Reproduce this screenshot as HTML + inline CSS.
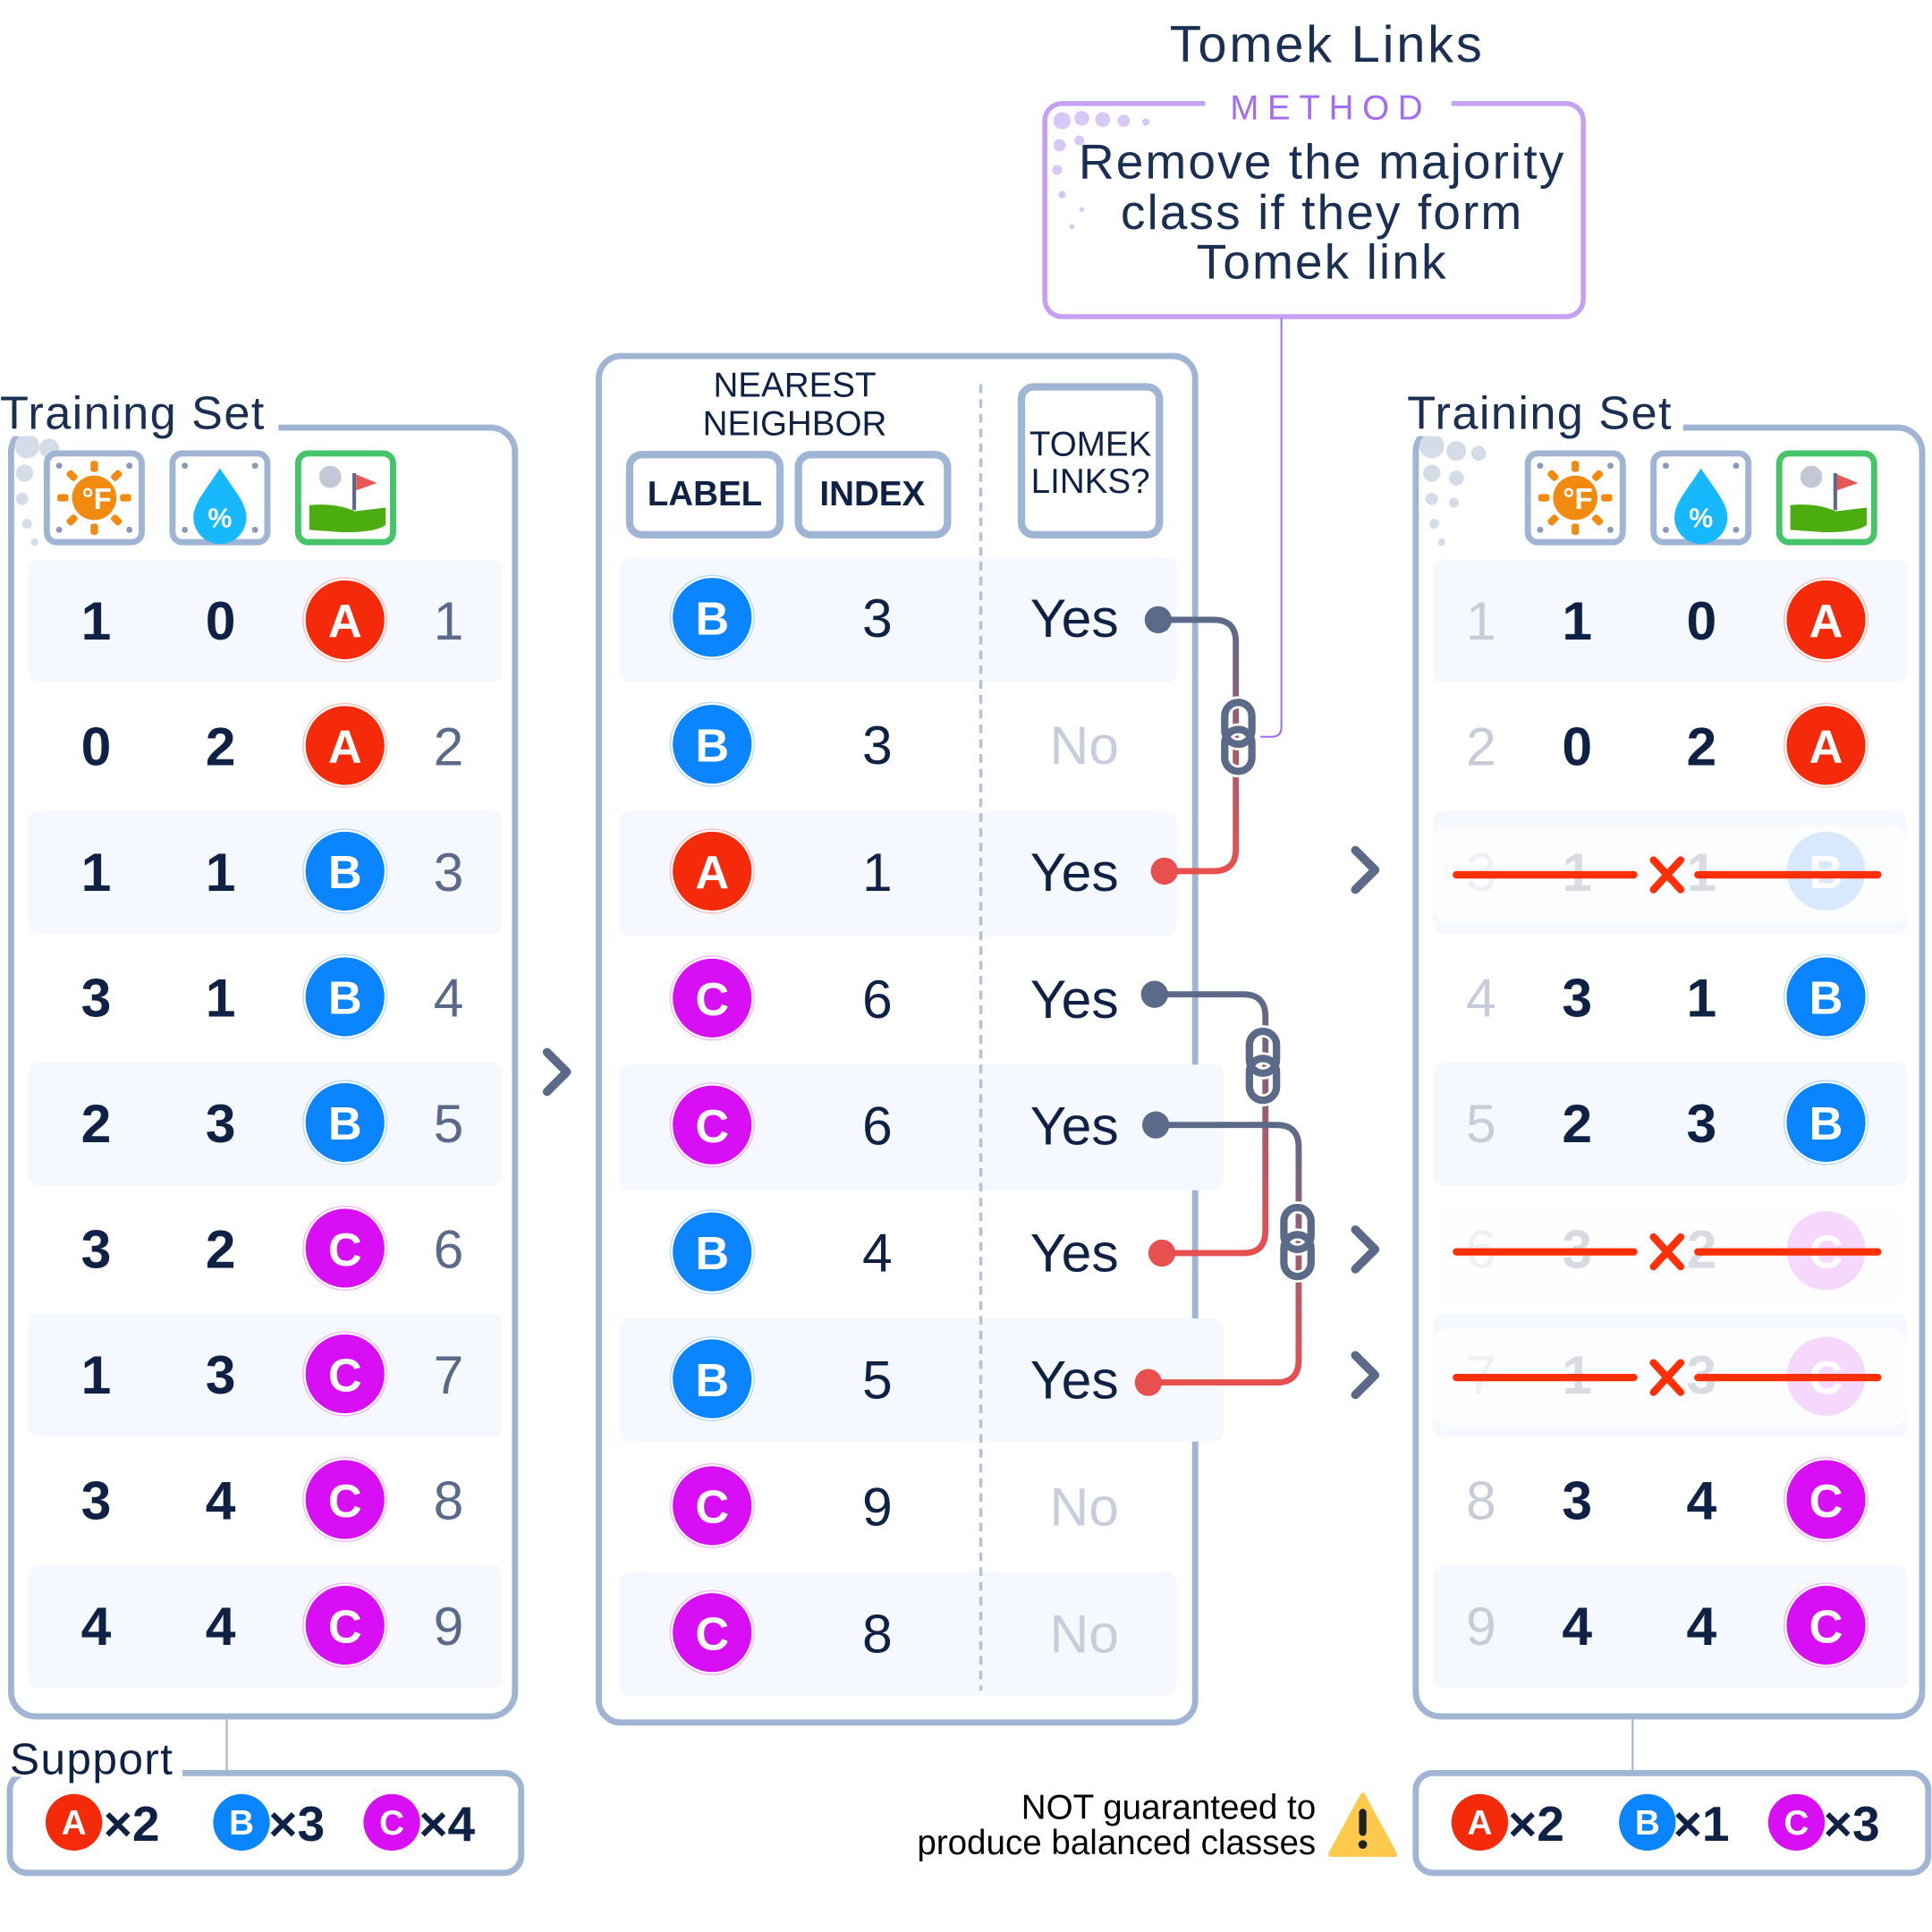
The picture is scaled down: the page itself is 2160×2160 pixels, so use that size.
<!DOCTYPE html>
<html><head><meta charset="utf-8"><style>
html,body{margin:0;padding:0;background:#fff;}
svg{display:block;}
text{font-family:"Liberation Sans",sans-serif;}
.n{font-size:44px;font-weight:bold;fill:#0f2145;text-anchor:middle;}
.ix{font-size:44px;fill:#5c6a8a;text-anchor:middle;}
.ixl{font-size:44px;fill:#c8ccd8;text-anchor:middle;}
.L{font-size:38px;font-weight:bold;fill:#fff;text-anchor:middle;}
.y{font-size:44px;fill:#0f2145;text-anchor:middle;}
.no{font-size:44px;fill:#c8cddb;text-anchor:middle;}
.t{font-size:38px;fill:#1b2f52;letter-spacing:1px;}
</style></head><body>
<svg width="2160" height="2160" viewBox="0 0 1568 1568" xmlns="http://www.w3.org/2000/svg">
<defs>
<g id="cA"><circle r="34" fill="#fff" stroke="#f52a0a" stroke-opacity=".3"/><circle r="32" fill="#f52a0a"/><text y="14" class="L">A</text></g>
<g id="cB"><circle r="34" fill="#fff" stroke="#0a84ff" stroke-opacity=".3"/><circle r="32" fill="#0a84ff"/><text y="14" class="L">B</text></g>
<g id="cC"><circle r="34" fill="#fff" stroke="#d80ff5" stroke-opacity=".3"/><circle r="32" fill="#d80ff5"/><text y="14" class="L">C</text></g>
<g id="sA"><circle r="23" fill="#f52a0a"/><text y="10" font-size="28" font-weight="bold" fill="#fff" text-anchor="middle">A</text></g>
<g id="sB"><circle r="23" fill="#0a84ff"/><text y="10" font-size="28" font-weight="bold" fill="#fff" text-anchor="middle">B</text></g>
<g id="sC"><circle r="23" fill="#d80ff5"/><text y="10" font-size="28" font-weight="bold" fill="#fff" text-anchor="middle">C</text></g>
<g id="ib"><rect x="0" y="0" width="77" height="72" rx="8" fill="#fff" stroke="#a0b4d4" stroke-width="5"/><circle cx="10" cy="10" r="2.5" fill="#8a9bb8"/><circle cx="67" cy="10" r="2.5" fill="#8a9bb8"/><circle cx="10" cy="62" r="2.5" fill="#8a9bb8"/><circle cx="67" cy="62" r="2.5" fill="#8a9bb8"/></g>
<g id="icons">
 <use href="#ib" x="0" y="0"/>
 <g transform="translate(38.5,36)" fill="#f28a10"><circle r="18"/><rect x="-3" y="-30" width="6" height="9" rx="2"/><rect x="-3" y="21" width="6" height="9" rx="2"/><rect x="-30" y="-3" width="9" height="6" rx="2"/><rect x="21" y="-3" width="9" height="6" rx="2"/><rect x="-3" y="-30" width="6" height="9" rx="2" transform="rotate(45)"/><rect x="-3" y="-30" width="6" height="9" rx="2" transform="rotate(-45)"/><rect x="-3" y="21" width="6" height="9" rx="2" transform="rotate(45)"/><rect x="-3" y="21" width="6" height="9" rx="2" transform="rotate(-45)"/><text x="2" y="9" font-size="24" font-weight="bold" fill="#fff" text-anchor="middle">°F</text></g>
 <use href="#ib" x="102" y="0"/>
 <path d="M140.5 12 C152 30 162 40 162 52 A21.5 21.5 0 0 1 119 52 C119 40 129 30 140.5 12Z" fill="#18b8ff"/><text x="140.5" y="60" font-size="22" font-weight="bold" fill="#fff" text-anchor="middle">%</text>
 <rect x="204" y="0" width="77" height="72" rx="8" fill="#fff" stroke="#46c46a" stroke-width="5"/>
 <circle cx="230" cy="19" r="9" fill="#c4c8d6"/><rect x="248" y="16" width="3" height="30" fill="#5c6a8a"/><path d="M251 17 L268 24 L251 30Z" fill="#e85656"/>
 <path d="M213 42 Q235 40 250 47 L275 44 L275 58 Q268 64 240 64 L213 62Z" fill="#4cad10"/>
</g>
</defs>

<!-- Title & method -->
<text x="1077" y="50" font-size="42" fill="#1b2f52" text-anchor="middle" letter-spacing="2">Tomek Links</text>
<rect x="848" y="84" width="437" height="173" rx="14" fill="#fff" stroke="#c4a0f5" stroke-width="4"/>
<g fill="#d8c8f8"><circle cx="862" cy="98" r="7"/><circle cx="878" cy="96" r="6"/><circle cx="895" cy="97" r="6"/><circle cx="912" cy="98" r="5"/><circle cx="930" cy="99" r="3"/><circle cx="860" cy="118" r="5"/><circle cx="876" cy="114" r="4"/><circle cx="858" cy="138" r="4"/><circle cx="862" cy="158" r="3"/><circle cx="878" cy="170" r="2"/><circle cx="870" cy="184" r="2"/></g>
<rect x="978" y="74" width="200" height="24" fill="#fff"/>
<text x="1080" y="97" font-size="28" fill="#a26cf5" text-anchor="middle" letter-spacing="7">METHOD</text>
<text x="1073" y="145" font-size="40" fill="#1b2f52" text-anchor="middle" letter-spacing="1.5">Remove the majority</text>
<text x="1073" y="186" font-size="40" fill="#1b2f52" text-anchor="middle" letter-spacing="1.5">class if they form</text>
<text x="1073" y="226" font-size="40" fill="#1b2f52" text-anchor="middle" letter-spacing="1.5">Tomek link</text>
<path d="M1040 258 V590 Q1040 598 1032 598 H1023" fill="none" stroke="#a26cf5" stroke-width="1.5"/>

<!-- LEFT PANEL -->
<rect x="9" y="347" width="409" height="1046" rx="20" fill="#fff" stroke="#a0b4d4" stroke-width="5"/>
<g fill="#d4dce8"><circle cx="22" cy="362" r="10"/><circle cx="40" cy="364" r="8"/><circle cx="20" cy="384" r="7"/><circle cx="18" cy="405" r="5"/><circle cx="22" cy="425" r="4"/><circle cx="28" cy="440" r="3"/></g>
<rect x="0" y="318" width="226" height="36" fill="#fff"/>
<text x="0" y="348" class="t">Training Set</text>
<use href="#icons" x="38" y="368"/>
<g fill="#f5f8fe"><rect x="23" y="454" width="385" height="100" rx="8"/><rect x="23" y="658" width="385" height="100" rx="8"/><rect x="23" y="862" width="385" height="100" rx="8"/><rect x="23" y="1066" width="385" height="100" rx="8"/><rect x="23" y="1270" width="385" height="100" rx="8"/></g>
<g>
<text x="78" y="519" class="n">1</text><text x="179" y="519" class="n">0</text><use href="#cA" x="280" y="503"/><text x="364" y="519" class="ix">1</text>
<text x="78" y="621" class="n">0</text><text x="179" y="621" class="n">2</text><use href="#cA" x="280" y="605"/><text x="364" y="621" class="ix">2</text>
<text x="78" y="723" class="n">1</text><text x="179" y="723" class="n">1</text><use href="#cB" x="280" y="707"/><text x="364" y="723" class="ix">3</text>
<text x="78" y="825" class="n">3</text><text x="179" y="825" class="n">1</text><use href="#cB" x="280" y="809"/><text x="364" y="825" class="ix">4</text>
<text x="78" y="927" class="n">2</text><text x="179" y="927" class="n">3</text><use href="#cB" x="280" y="911"/><text x="364" y="927" class="ix">5</text>
<text x="78" y="1029" class="n">3</text><text x="179" y="1029" class="n">2</text><use href="#cC" x="280" y="1013"/><text x="364" y="1029" class="ix">6</text>
<text x="78" y="1131" class="n">1</text><text x="179" y="1131" class="n">3</text><use href="#cC" x="280" y="1115"/><text x="364" y="1131" class="ix">7</text>
<text x="78" y="1233" class="n">3</text><text x="179" y="1233" class="n">4</text><use href="#cC" x="280" y="1217"/><text x="364" y="1233" class="ix">8</text>
<text x="78" y="1335" class="n">4</text><text x="179" y="1335" class="n">4</text><use href="#cC" x="280" y="1319"/><text x="364" y="1335" class="ix">9</text>
</g>

<!-- Support left -->
<line x1="184" y1="1395" x2="184" y2="1438" stroke="#a0b4d4" stroke-width="1.5"/>
<rect x="8" y="1439" width="415" height="81" rx="14" fill="#fff" stroke="#a0b4d4" stroke-width="5"/>
<rect x="0" y="1406" width="148" height="36" fill="#fff"/>
<text x="8" y="1440" font-size="36" fill="#0f2145" letter-spacing="1">Support</text>
<use href="#sA" x="60" y="1479"/><text x="84" y="1494" font-size="40" font-weight="bold" fill="#0f2145">×2</text>
<use href="#sB" x="196" y="1479"/><text x="218" y="1494" font-size="40" font-weight="bold" fill="#0f2145">×3</text>
<use href="#sC" x="318" y="1479"/><text x="340" y="1494" font-size="40" font-weight="bold" fill="#0f2145">×4</text>

<!-- Chevrons -->
<g fill="none" stroke="#5c6a8a" stroke-width="7" stroke-linecap="round" stroke-linejoin="round">
<path d="M444 854 L460 870 L444 886"/><path d="M1100 690 L1116 706 L1100 722"/><path d="M1100 998 L1116 1014 L1100 1030"/><path d="M1100 1100 L1116 1116 L1100 1132"/>
</g>

<!-- MIDDLE PANEL -->
<rect x="486" y="289" width="484" height="1109" rx="18" fill="#fff" stroke="#a0b4d4" stroke-width="5"/>
<g fill="#f5f8fe"><rect x="503" y="452" width="452" height="102" rx="8"/><rect x="503" y="658" width="452" height="102" rx="8"/><rect x="503" y="864" width="490" height="102" rx="8"/><rect x="503" y="1070" width="490" height="100" rx="8"/><rect x="503" y="1276" width="452" height="100" rx="8"/></g>
<line x1="796" y1="312" x2="796" y2="1372" stroke="#b4c2d4" stroke-width="2.5" stroke-dasharray="7 5"/>
<text x="645" y="322" font-size="28" fill="#0f2145" text-anchor="middle">NEAREST</text>
<text x="645" y="353" font-size="28" fill="#0f2145" text-anchor="middle">NEIGHBOR</text>
<rect x="511" y="369" width="122" height="65" rx="10" fill="#fff" stroke="#a0b4d4" stroke-width="6"/>
<text x="572" y="410" font-size="28" font-weight="bold" fill="#0f2145" text-anchor="middle">LABEL</text>
<rect x="648" y="369" width="121" height="65" rx="10" fill="#fff" stroke="#a0b4d4" stroke-width="6"/>
<text x="708" y="410" font-size="28" font-weight="bold" fill="#0f2145" text-anchor="middle">INDEX</text>
<rect x="829" y="314" width="112" height="120" rx="10" fill="#fff" stroke="#a0b4d4" stroke-width="6"/>
<text x="885" y="370" font-size="28" fill="#0f2145" text-anchor="middle">TOMEK</text>
<text x="885" y="400" font-size="28" fill="#0f2145" text-anchor="middle">LINKS?</text>

<use href="#cB" x="578" y="501"/><text x="712" y="517" class="y">3</text><text x="872" y="517" class="y">Yes</text>
<use href="#cB" x="578" y="604"/><text x="712" y="620" class="y">3</text><text x="880" y="620" class="no">No</text>
<use href="#cA" x="578" y="707"/><text x="712" y="723" class="y">1</text><text x="872" y="723" class="y">Yes</text>
<use href="#cC" x="578" y="810"/><text x="712" y="826" class="y">6</text><text x="872" y="826" class="y">Yes</text>
<use href="#cC" x="578" y="913"/><text x="712" y="929" class="y">6</text><text x="872" y="929" class="y">Yes</text>
<use href="#cB" x="578" y="1016"/><text x="712" y="1032" class="y">4</text><text x="872" y="1032" class="y">Yes</text>
<use href="#cB" x="578" y="1119"/><text x="712" y="1135" class="y">5</text><text x="872" y="1135" class="y">Yes</text>
<use href="#cC" x="578" y="1222"/><text x="712" y="1238" class="y">9</text><text x="880" y="1238" class="no">No</text>
<use href="#cC" x="578" y="1325"/><text x="712" y="1341" class="y">8</text><text x="880" y="1341" class="no">No</text>

<!-- connectors -->
<defs>
<linearGradient id="g1" x1="0" y1="0" x2="0" y2="1"><stop offset="0" stop-color="#5c6a8a"/><stop offset="1" stop-color="#e85050"/></linearGradient>
<g id="link"><rect x="-11" y="-28" width="22" height="34" rx="11" fill="none" stroke="#fff" stroke-width="10"/><rect x="-11" y="-6" width="22" height="34" rx="11" fill="none" stroke="#fff" stroke-width="10"/><rect x="-11" y="-28" width="22" height="34" rx="11" fill="none" stroke="#5c6a8a" stroke-width="6"/><rect x="-11" y="-6" width="22" height="34" rx="11" fill="none" stroke="#5c6a8a" stroke-width="6"/></g>
</defs>
<path d="M940 503 H985 Q1003 503 1003 521 V689 Q1003 707 985 707 H945" fill="none" stroke="url(#g1)" stroke-width="5"/>
<circle cx="940" cy="503" r="11" fill="#5c6a8a"/><circle cx="945" cy="707" r="11" fill="#e85050"/>
<use href="#link" x="1005" y="598"/>
<path d="M937 807 H1009 Q1027 807 1027 825 V999 Q1027 1017 1009 1017 H943" fill="none" stroke="url(#g1)" stroke-width="5"/>
<circle cx="937" cy="807" r="11" fill="#5c6a8a"/><circle cx="943" cy="1017" r="11" fill="#e85050"/>
<path d="M938 913 H1036 Q1054 913 1054 931 V1104 Q1054 1122 1036 1122 H932" fill="none" stroke="url(#g1)" stroke-width="5"/>
<circle cx="938" cy="913" r="11" fill="#5c6a8a"/><circle cx="932" cy="1122" r="11" fill="#e85050"/>
<use href="#link" x="1025" y="865"/>
<use href="#link" x="1053" y="1008"/>

<!-- RIGHT PANEL -->
<rect x="1149" y="347" width="411" height="1046" rx="20" fill="#fff" stroke="#a0b4d4" stroke-width="5"/>
<g fill="#d4dce8"><circle cx="1162" cy="362" r="10"/><circle cx="1182" cy="366" r="8"/><circle cx="1200" cy="368" r="6"/><circle cx="1162" cy="384" r="7"/><circle cx="1182" cy="388" r="6"/><circle cx="1162" cy="405" r="5"/><circle cx="1180" cy="408" r="4"/><circle cx="1164" cy="425" r="4"/><circle cx="1170" cy="440" r="3"/></g>
<rect x="1140" y="318" width="226" height="36" fill="#fff"/>
<text x="1142" y="348" class="t">Training Set</text>
<use href="#icons" x="1240" y="368"/>
<g fill="#f5f8fe"><rect x="1163" y="454" width="385" height="100" rx="8"/><rect x="1163" y="658" width="385" height="100" rx="8"/><rect x="1163" y="862" width="385" height="100" rx="8"/><rect x="1163" y="1066" width="385" height="100" rx="8"/><rect x="1163" y="1270" width="385" height="100" rx="8"/></g>
<text x="1202" y="519" class="ixl">1</text><text x="1280" y="519" class="n">1</text><text x="1381" y="519" class="n">0</text><use href="#cA" x="1482" y="503"/>
<text x="1202" y="621" class="ixl">2</text><text x="1280" y="621" class="n">0</text><text x="1381" y="621" class="n">2</text><use href="#cA" x="1482" y="605"/>
<text x="1202" y="825" class="ixl">4</text><text x="1280" y="825" class="n">3</text><text x="1381" y="825" class="n">1</text><use href="#cB" x="1482" y="809"/>
<text x="1202" y="927" class="ixl">5</text><text x="1280" y="927" class="n">2</text><text x="1381" y="927" class="n">3</text><use href="#cB" x="1482" y="911"/>
<text x="1202" y="1233" class="ixl">8</text><text x="1280" y="1233" class="n">3</text><text x="1381" y="1233" class="n">4</text><use href="#cC" x="1482" y="1217"/>
<text x="1202" y="1335" class="ixl">9</text><text x="1280" y="1335" class="n">4</text><text x="1381" y="1335" class="n">4</text><use href="#cC" x="1482" y="1319"/>
<!-- removed rows -->
<g>
<rect x="1163" y="670" width="385" height="80" rx="14" fill="#fcfdff"/>
<text x="1202" y="723" font-size="44" fill="#eef0f4" text-anchor="middle">3</text><text x="1280" y="723" font-size="44" font-weight="bold" fill="#d8dce2" text-anchor="middle">1</text><text x="1381" y="723" font-size="44" font-weight="bold" fill="#d8dce2" text-anchor="middle">1</text><circle cx="1482" cy="707" r="32" fill="#d8e8fd"/><text x="1482" y="721" font-size="38" font-weight="bold" fill="#fff" text-anchor="middle">B</text>
<rect x="1163" y="978" width="385" height="80" rx="14" fill="#fefdff"/>
<text x="1202" y="1029" font-size="44" fill="#eef0f4" text-anchor="middle">6</text><text x="1280" y="1029" font-size="44" font-weight="bold" fill="#d8dce2" text-anchor="middle">3</text><text x="1381" y="1029" font-size="44" font-weight="bold" fill="#d8dce2" text-anchor="middle">2</text><circle cx="1482" cy="1015" r="32" fill="#f6d8fd"/><text x="1482" y="1029" font-size="38" font-weight="bold" fill="#fff" text-anchor="middle">C</text>
<rect x="1163" y="1078" width="385" height="80" rx="14" fill="#fcfdff"/>
<text x="1202" y="1131" font-size="44" fill="#eef0f4" text-anchor="middle">7</text><text x="1280" y="1131" font-size="44" font-weight="bold" fill="#d8dce2" text-anchor="middle">1</text><text x="1381" y="1131" font-size="44" font-weight="bold" fill="#d8dce2" text-anchor="middle">3</text><circle cx="1482" cy="1117" r="32" fill="#f6d8fd"/><text x="1482" y="1131" font-size="38" font-weight="bold" fill="#fff" text-anchor="middle">C</text>
</g>
<g stroke="#ff3008" stroke-width="6" stroke-linecap="round">
<line x1="1182" y1="710" x2="1326" y2="710"/><line x1="1378" y1="710" x2="1524" y2="710"/><line x1="1342" y1="698" x2="1364" y2="722"/><line x1="1364" y1="698" x2="1342" y2="722"/>
<line x1="1182" y1="1016" x2="1326" y2="1016"/><line x1="1378" y1="1016" x2="1524" y2="1016"/><line x1="1342" y1="1004" x2="1364" y2="1028"/><line x1="1364" y1="1004" x2="1342" y2="1028"/>
<line x1="1182" y1="1118" x2="1326" y2="1118"/><line x1="1378" y1="1118" x2="1524" y2="1118"/><line x1="1342" y1="1106" x2="1364" y2="1130"/><line x1="1364" y1="1106" x2="1342" y2="1130"/>
</g>

<!-- Support right -->
<line x1="1325" y1="1395" x2="1325" y2="1438" stroke="#a0b4d4" stroke-width="1.5"/>
<rect x="1149" y="1439" width="416" height="81" rx="14" fill="#fff" stroke="#a0b4d4" stroke-width="5"/>
<use href="#sA" x="1201" y="1479"/><text x="1224" y="1494" font-size="40" font-weight="bold" fill="#0f2145">×2</text>
<use href="#sB" x="1337" y="1479"/><text x="1358" y="1494" font-size="40" font-weight="bold" fill="#0f2145">×1</text>
<use href="#sC" x="1458" y="1479"/><text x="1480" y="1494" font-size="40" font-weight="bold" fill="#0f2145">×3</text>

<!-- warning -->
<text x="1068" y="1476" font-size="28" fill="#000" text-anchor="end">NOT guaranteed to</text>
<text x="1068" y="1505" font-size="28" fill="#000" text-anchor="end">produce balanced classes</text>
<path d="M1106 1457 L1132 1505 L1080 1505Z" fill="#fcc94c" stroke="#fcc94c" stroke-width="4" stroke-linejoin="round"/>
<rect x="1103" y="1468" width="6" height="22" rx="3" fill="#222"/><circle cx="1106" cy="1497" r="3.5" fill="#222"/>
</svg>
</body></html>
